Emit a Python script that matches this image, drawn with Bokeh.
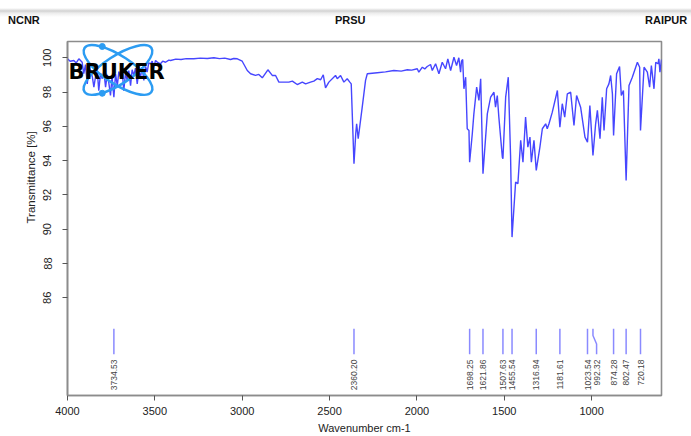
import math
from bokeh.plotting import figure
from bokeh.models import Range1d, FixedTicker, Title, ColumnDataSource, Div
from bokeh.layouts import column
from bokeh.embed import file_html
from bokeh.resources import INLINE
from bokeh.core.properties import value

# FT-IR spectrum: wavenumber (cm-1) and transmittance (%)
wavenumber = [
    4000, 3985, 3964, 3950, 3935, 3916, 3907, 3897, 3887, 3877, 3868, 3858,
    3849, 3840, 3830, 3821, 3811, 3801, 3792, 3782, 3773, 3764, 3754, 3745,
    3734.53, 3725, 3715, 3706, 3697, 3687, 3678, 3668, 3658, 3649, 3639, 3630,
    3620, 3611, 3601, 3592, 3582, 3573, 3563, 3553, 3544, 3535, 3525, 3515,
    3506, 3496, 3486, 3468, 3455, 3439, 3420, 3410, 3380, 3350, 3320, 3277,
    3240, 3200, 3162, 3130, 3100, 3067, 3048, 3028, 3000, 2971, 2952, 2924,
    2905, 2885, 2853, 2828, 2809, 2790, 2762, 2733, 2713, 2685, 2656, 2637,
    2609, 2590, 2570, 2551, 2536, 2523, 2504, 2466, 2456, 2437, 2418, 2399,
    2384, 2376, 2360.20, 2350, 2345, 2336, 2313, 2294, 2284, 2227, 2180, 2132,
    2090, 2055, 2030, 1998, 1989, 1969, 1955, 1941, 1922, 1912, 1893, 1874,
    1855, 1836, 1823, 1807, 1788, 1773, 1760, 1750, 1745, 1738, 1731, 1721,
    1712, 1702, 1698.25, 1683, 1674, 1658, 1645, 1635, 1621.86, 1597, 1578, 1559,
    1550, 1540, 1531, 1511, 1507.63, 1492, 1477, 1464, 1455.54, 1435, 1422, 1406,
    1393, 1378, 1365, 1353, 1345, 1330, 1316.94, 1296, 1282, 1263, 1254, 1244,
    1225, 1196, 1181.61, 1168, 1154, 1139, 1120, 1101, 1086, 1063, 1038, 1023.54,
    1010, 992.32, 977, 967, 952, 939, 929, 914, 901, 891, 881, 874.28,
    857, 840, 830, 818, 802.47, 786, 767, 738, 725, 720.18, 700, 681,
    668, 658, 643, 633, 620, 615, 609, 600,
]
transmittance = [
    99.94, 99.80, 99.84, 99.70, 99.94, 99.74, 99.07, 99.60, 98.48, 99.40, 99.26, 98.90,
    98.29, 98.87, 99.30, 98.08, 99.10, 98.78, 99.20, 98.29, 99.00, 98.58, 97.80, 98.90,
    97.70, 99.05, 98.38, 99.20, 98.87, 99.30, 98.08, 99.10, 98.68, 99.25, 98.38, 99.30,
    98.97, 99.40, 98.48, 99.20, 98.87, 99.45, 98.68, 99.50, 99.16, 99.70, 99.65, 99.80,
    99.45, 99.85, 99.74, 99.65, 99.80, 99.74, 99.86, 99.84, 99.92, 99.90, 99.95, 99.94,
    99.98, 99.96, 100.00, 99.95, 99.98, 99.90, 99.96, 99.94, 99.80, 99.26, 99.07, 98.97,
    99.03, 98.83, 99.30, 98.97, 98.97, 98.58, 98.58, 98.58, 98.64, 98.44, 98.58, 98.48,
    98.58, 98.64, 98.78, 98.72, 99.01, 98.25, 98.58, 98.97, 98.78, 98.97, 98.58, 98.78,
    98.58, 98.48, 93.82, 95.60, 96.15, 95.28, 97.12, 98.68, 99.07, 99.13, 99.18, 99.26,
    99.22, 99.30, 99.28, 99.36, 99.16, 99.45, 99.35, 99.49, 99.61, 99.26, 99.65, 99.07,
    99.74, 99.36, 99.94, 99.26, 100.03, 99.55, 100.00, 99.16, 99.80, 99.90, 98.19, 98.87,
    95.86, 95.76, 93.91, 95.57, 96.73, 98.29, 97.51, 98.78, 93.24, 96.73, 97.70, 97.99,
    97.12, 97.80, 96.54, 94.20, 94.11, 97.70, 98.87, 94.30, 89.54, 92.75, 92.65, 95.18,
    93.91, 96.54, 94.79, 95.37, 93.91, 95.18, 93.43, 94.79, 95.86, 96.15, 95.86, 96.15,
    96.83, 98.09, 95.95, 97.32, 96.54, 97.90, 97.99, 96.05, 97.80, 97.12, 95.37, 95.08,
    97.22, 94.30, 96.15, 96.93, 95.28, 97.70, 95.76, 98.19, 98.48, 98.97, 97.90, 95.47,
    99.07, 99.49, 97.80, 98.09, 92.85, 98.38, 98.87, 99.74, 99.45, 95.76, 99.45, 99.16,
    98.29, 99.55, 98.19, 99.74, 99.65, 99.94, 99.16, 99.90,
]

# Picked peaks (cm-1)
peak_wavenumbers = [3734.53, 2360.20, 1698.25, 1621.86, 1507.63, 1455.54,
                    1316.94, 1181.61, 1023.54, 992.32, 874.28, 802.47, 720.18]

x_ticks = [4000, 3500, 3000, 2500, 2000, 1500, 1000]
y_ticks = [86, 88, 90, 92, 94, 96, 98, 100]
header_texts = ["NCNR", "PRSU", "RAIPUR"]

FONT = "Liberation Sans"
LINE_BLUE = "#4646ff"
PEAK_BLUE = "#8a8aff"
LOGO_BLUE = "#2c9cf2"

# ---- header: page shadow and the three site names ----
header_left = [8, 335, 645]
spans = "".join(
    f'<span style="position:absolute;left:{lx}px;top:14px;font:bold 11px \'{FONT}\';'
    f'color:#111;white-space:nowrap;line-height:12px">{t}</span>'
    for t, lx in zip(header_texts, header_left))
hdr = Div(width=691, height=27, text=(
    '<div style="position:relative;width:691px;height:27px;overflow:hidden;'
    'background:linear-gradient(to bottom,#fff 0px,#fff 8px,#d2d2d2 11px,'
    '#ececec 13px,#fff 17px,#fff 27px)">' + spans + '</div>'),
    styles={"margin": "0", "padding": "0"})

# ---- spectrum plot ----
p = figure(width=691, height=409, output_backend="svg", toolbar_location=None,
           x_range=Range1d(4000, 600), y_range=Range1d(80.3, 100.95),
           min_border_left=67, min_border_right=30, min_border_top=14,
           min_border_bottom=41, background_fill_color="white",
           border_fill_color="white")
p.grid.visible = False
p.outline_line_color = "#8c8c8c"
p.outline_line_width = 1.6

p.xaxis.ticker = FixedTicker(ticks=x_ticks)
p.yaxis.ticker = FixedTicker(ticks=y_ticks)
for ax in (p.xaxis[0], p.yaxis[0]):
    ax.axis_line_color = "#8c8c8c"
    ax.axis_line_width = 1.6
    ax.major_tick_in = 0
    ax.major_tick_out = 5
    ax.major_tick_line_color = "#555555"
    ax.minor_tick_line_color = None
    ax.major_label_text_font = FONT
    ax.major_label_text_font_size = "11px"
    ax.major_label_text_color = "#222222"
p.xaxis.major_label_standoff = 6
p.yaxis.major_label_standoff = 11
p.yaxis.major_label_orientation = "vertical"
p.xaxis.axis_label = "Wavenumber cm-1"
p.xaxis.axis_label_text_font = FONT
p.xaxis.axis_label_text_font_size = "11px"
p.xaxis.axis_label_text_font_style = "normal"
p.xaxis.axis_label_text_color = "#222222"
p.xaxis.axis_label_standoff = 4

# y-axis title, placed above the middle of the frame
p.add_layout(Title(text="Transmittance [%]", align="left", offset=172,
                   standoff=8, text_font=FONT, text_font_size="11.5px",
                   text_font_style="normal", text_color="#222222"), "left")

src = ColumnDataSource(dict(x=wavenumber, y=transmittance))
p.line("x", "y", source=src, line_color=LINE_BLUE, line_width=1.4)

# peak markers; labels are pushed apart where peaks crowd
MARK_TOP, MARK_BEND1, MARK_BEND2, MARK_BOTTOM, LABEL_TOP = 84.2, 83.8, 83.3, 82.7, 82.4
MIN_GAP = 52
label_x = []
prev = None
for w in peak_wavenumbers:
    lx = w if prev is None else min(w, prev - MIN_GAP)
    label_x.append(lx)
    prev = lx
xs = [[w, w, lx, lx] for w, lx in zip(peak_wavenumbers, label_x)]
ys = [[MARK_TOP, MARK_BEND1, MARK_BEND2, MARK_BOTTOM] for _ in peak_wavenumbers]
p.multi_line(xs, ys, line_color=PEAK_BLUE, line_width=1.5)
p.text(x=label_x, y=[LABEL_TOP] * len(label_x),
       text=[f"{w:.2f}" for w in peak_wavenumbers],
       angle=math.pi / 2, text_align="right", text_baseline="middle",
       text_font=value(FONT), text_font_size="8.5px", text_color="#444444")

# Bruker logo: two crossed orbits, two electrons and the word mark
LOGO_X, LOGO_Y = 3711, 99.29
p.ellipse(x=[LOGO_X, LOGO_X], y=[LOGO_Y, LOGO_Y], width=80, height=28,
          width_units="screen", height_units="screen",
          angle=[0.58, -0.58], fill_color=None, line_color=LOGO_BLUE, line_width=2.5)
p.scatter(x=[3801, 3801], y=[100.66, 97.93], size=6, color=LOGO_BLUE)
p.text(x=[3994], y=[99.2], text=["BRUKER"], text_align="left", text_baseline="middle",
       text_font=value("DejaVu Sans"), text_font_size="21px", text_font_style="bold",
       text_color="black")

layout = column(hdr, p, spacing=0)
open("out.html", "w").write(file_html(layout, INLINE))
